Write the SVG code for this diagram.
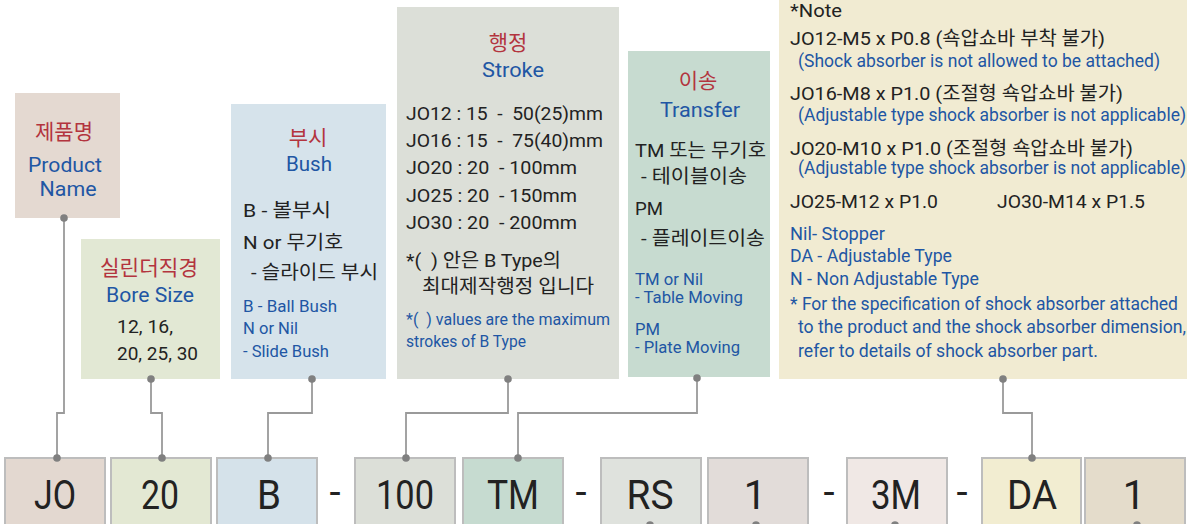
<svg xmlns="http://www.w3.org/2000/svg" width="1187" height="524" viewBox="0 0 1187 524">
<style>
text{font-family:Roboto,"Noto Sans CJK KR","Liberation Sans",sans-serif;font-weight:400;}
.r{fill:#b3343e;font-size:21px;text-anchor:middle;}
.h{fill:#2156a4;font-size:21px;text-anchor:middle;}
.k{fill:#222;font-size:19px;}
.b{fill:#2156a4;font-size:16.5px;}
.nb{fill:#2156a4;font-size:17.5px;}
.big{fill:#222;font-size:40px;text-anchor:middle;}
.cn{fill:none;stroke:#9a9a9a;stroke-width:1.8;}
.dot{fill:#808080;}
.bx{stroke:#bdbdbd;stroke-width:2;}
</style>
<rect width="1187" height="524" fill="#fff"/>

<g id="node-product">
<rect x="15" y="93" width="105" height="125" fill="#e4d9d1"/>
<text class="r" x="64" y="139" textLength="58" lengthAdjust="spacingAndGlyphs">제품명</text>
<text class="h" x="65" y="172" textLength="74" lengthAdjust="spacingAndGlyphs">Product</text>
<text class="h" x="68" y="196" textLength="57" lengthAdjust="spacingAndGlyphs">Name</text>
</g>

<g id="node-bore">
<rect x="81" y="239" width="139" height="140" fill="#e2e8d4"/>
<text class="r" x="149" y="275" textLength="98" lengthAdjust="spacingAndGlyphs">실린더직경</text>
<text class="h" x="150" y="302" textLength="88" lengthAdjust="spacingAndGlyphs">Bore Size</text>
<text class="k" x="117" y="333" textLength="56" lengthAdjust="spacingAndGlyphs">12, 16,</text>
<text class="k" x="117" y="360" textLength="81" lengthAdjust="spacingAndGlyphs">20, 25, 30</text>
</g>

<g id="node-bush">
<rect x="231" y="104" width="155" height="275" fill="#d6e3eb"/>
<text class="r" x="308" y="145">부시</text>
<text class="h" x="309" y="171" textLength="46" lengthAdjust="spacingAndGlyphs">Bush</text>
<text class="k" x="243" y="217" textLength="88" lengthAdjust="spacingAndGlyphs">B - 볼부시</text>
<text class="k" x="243" y="249" textLength="100" lengthAdjust="spacingAndGlyphs">N or 무기호</text>
<text class="k" x="251" y="279" textLength="127" lengthAdjust="spacingAndGlyphs">- 슬라이드 부시</text>
<text class="b" x="243" y="312" textLength="94" lengthAdjust="spacingAndGlyphs">B - Ball Bush</text>
<text class="b" x="243" y="334" textLength="55" lengthAdjust="spacingAndGlyphs">N or Nil</text>
<text class="b" x="243" y="357" textLength="86" lengthAdjust="spacingAndGlyphs">- Slide Bush</text>
</g>

<g id="node-stroke">
<rect x="397" y="7" width="222" height="372" fill="#dcdfd8"/>
<text class="r" x="508" y="50">행정</text>
<text class="h" x="513" y="77" textLength="62" lengthAdjust="spacingAndGlyphs">Stroke</text>
<text class="k" x="406" y="120" xml:space="preserve" textLength="197" lengthAdjust="spacingAndGlyphs">JO12 : 15  -  50(25)mm</text>
<text class="k" x="406" y="147" xml:space="preserve" textLength="197" lengthAdjust="spacingAndGlyphs">JO16 : 15  -  75(40)mm</text>
<text class="k" x="406" y="174" xml:space="preserve" textLength="171" lengthAdjust="spacingAndGlyphs">JO20 : 20  - 100mm</text>
<text class="k" x="406" y="202" xml:space="preserve" textLength="171" lengthAdjust="spacingAndGlyphs">JO25 : 20  - 150mm</text>
<text class="k" x="406" y="229" xml:space="preserve" textLength="171" lengthAdjust="spacingAndGlyphs">JO30 : 20  - 200mm</text>
<text class="k" x="406" y="267" xml:space="preserve" textLength="155" lengthAdjust="spacingAndGlyphs">*(  ) 안은 B Type의</text>
<text class="k" x="422" y="293" textLength="172" lengthAdjust="spacingAndGlyphs">최대제작행정 입니다</text>
<text class="b" x="406" y="325" xml:space="preserve" textLength="204" lengthAdjust="spacingAndGlyphs">*(  ) values are the maximum</text>
<text class="b" x="406" y="347" textLength="120" lengthAdjust="spacingAndGlyphs">strokes of B Type</text>
</g>

<g id="node-transfer">
<rect x="628" y="51" width="142" height="326" fill="#c7dbd0"/>
<text class="r" x="698" y="88">이송</text>
<text class="h" x="700" y="117" textLength="80" lengthAdjust="spacingAndGlyphs">Transfer</text>
<text class="k" x="635" y="157" textLength="131" lengthAdjust="spacingAndGlyphs">TM 또는 무기호</text>
<text class="k" x="641" y="183" textLength="106" lengthAdjust="spacingAndGlyphs">- 테이블이송</text>
<text class="k" x="635" y="215" textLength="28" lengthAdjust="spacingAndGlyphs">PM</text>
<text class="k" x="641" y="245" textLength="124" lengthAdjust="spacingAndGlyphs">- 플레이트이송</text>
<text class="b" x="635" y="285" textLength="68" lengthAdjust="spacingAndGlyphs">TM or Nil</text>
<text class="b" x="635" y="303" textLength="108" lengthAdjust="spacingAndGlyphs">- Table Moving</text>
<text class="b" x="635" y="335" textLength="25" lengthAdjust="spacingAndGlyphs">PM</text>
<text class="b" x="635" y="353" textLength="105" lengthAdjust="spacingAndGlyphs">- Plate Moving</text>
</g>

<g id="node-note">
<rect x="779" y="0" width="408" height="379" fill="#f1ebd2"/>
<text class="k" x="790" y="17" textLength="52" lengthAdjust="spacingAndGlyphs">*Note</text>
<text class="k" x="790" y="45" textLength="315" lengthAdjust="spacingAndGlyphs">JO12-M5 x P0.8 (쇽압쇼바 부착 불가)</text>
<text class="nb" x="798" y="67" textLength="362" lengthAdjust="spacingAndGlyphs">(Shock absorber is not allowed to be attached)</text>
<text class="k" x="790" y="100" textLength="333" lengthAdjust="spacingAndGlyphs">JO16-M8 x P1.0 (조절형 쇽압쇼바 불가)</text>
<text class="nb" x="798" y="121" textLength="388" lengthAdjust="spacingAndGlyphs">(Adjustable type shock absorber is not applicable)</text>
<text class="k" x="790" y="155" textLength="343" lengthAdjust="spacingAndGlyphs">JO20-M10 x P1.0 (조절형 쇽압쇼바 불가)</text>
<text class="nb" x="798" y="174" textLength="388" lengthAdjust="spacingAndGlyphs">(Adjustable type shock absorber is not applicable)</text>
<text class="k" x="790" y="208" textLength="148" lengthAdjust="spacingAndGlyphs">JO25-M12 x P1.0</text>
<text class="k" x="997" y="208" textLength="148" lengthAdjust="spacingAndGlyphs">JO30-M14 x P1.5</text>
<text class="nb" x="790" y="240" textLength="95" lengthAdjust="spacingAndGlyphs">Nil- Stopper</text>
<text class="nb" x="790" y="262" textLength="162" lengthAdjust="spacingAndGlyphs">DA - Adjustable Type</text>
<text class="nb" x="790" y="285" textLength="189" lengthAdjust="spacingAndGlyphs">N - Non Adjustable Type</text>
<text class="nb" x="790" y="310" textLength="388" lengthAdjust="spacingAndGlyphs">* For the specification of shock absorber attached</text>
<text class="nb" x="798" y="333" textLength="388" lengthAdjust="spacingAndGlyphs">to the product and the shock absorber dimension,</text>
<text class="nb" x="798" y="357" textLength="300" lengthAdjust="spacingAndGlyphs">refer to details of shock absorber part.</text>
</g>

<g id="code-JO"><rect class="bx" x="5" y="458" width="100" height="70" fill="#e3d8d0"/><text class="big" x="55" y="509" textLength="42" lengthAdjust="spacingAndGlyphs">JO</text></g>
<g id="code-20"><rect class="bx" x="111" y="458" width="100" height="70" fill="#e3e8d3"/><text class="big" x="160" y="509" textLength="38" lengthAdjust="spacingAndGlyphs">20</text></g>
<g id="code-B"><rect class="bx" x="217" y="458" width="100" height="70" fill="#d5e2ea" stroke="#a9acaf"/><text class="big" x="269" y="509" textLength="24" lengthAdjust="spacingAndGlyphs">B</text></g>
<g id="sep-1"><text class="big" x="335" y="506">-</text></g>
<g id="code-100"><rect class="bx" x="355" y="458" width="100" height="70" fill="#dcdfd8"/><text class="big" x="405" y="509" textLength="58" lengthAdjust="spacingAndGlyphs">100</text></g>
<g id="code-TM"><rect class="bx" x="463" y="458" width="100" height="70" fill="#c6dbd0" stroke="#abb0ad"/><text class="big" x="513" y="509" textLength="52" lengthAdjust="spacingAndGlyphs">TM</text></g>
<g id="sep-2"><text class="big" x="581" y="506">-</text></g>
<g id="code-RS"><rect class="bx" x="601" y="458" width="100" height="70" fill="#dfe2dd"/><text class="big" x="650" y="509" textLength="47" lengthAdjust="spacingAndGlyphs">RS</text></g>
<g id="code-1a"><rect class="bx" x="708" y="458" width="100" height="70" fill="#e2dcd9"/><text class="big" x="755" y="509">1</text></g>
<g id="sep-3"><text class="big" x="829" y="506">-</text></g>
<g id="code-3M"><rect class="bx" x="847" y="458" width="100" height="70" fill="#f0e8e5"/><text class="big" x="896" y="509" textLength="50" lengthAdjust="spacingAndGlyphs">3M</text></g>
<g id="sep-4"><text class="big" x="962" y="506">-</text></g>
<g id="code-DA"><rect class="bx" x="982" y="458" width="99" height="70" fill="#f2edd1" stroke="#ababa6"/><text class="big" x="1032" y="509" textLength="50" lengthAdjust="spacingAndGlyphs">DA</text></g>
<g id="code-1b"><rect class="bx" x="1085" y="458" width="100" height="70" fill="#e4dccb" stroke="#ababa6"/><text class="big" x="1134" y="509">1</text></g>

<g id="connectors">
<path class="cn" d="M57 458 V413 H64 V218"/>
<path class="cn" d="M162 458 V413 H151 V379"/>
<path class="cn" d="M268 458 V413 H312 V379"/>
<path class="cn" d="M406 458 V413 H508 V379"/>
<path class="cn" d="M518 458 V413 H697 V378"/>
<path class="cn" d="M1032 458 V413 H1003 V379"/>
<circle class="dot" cx="57" cy="458" r="3.8"/><circle class="dot" cx="64" cy="218" r="3.8"/>
<circle class="dot" cx="162" cy="458" r="3.8"/><circle class="dot" cx="151" cy="379" r="3.8"/>
<circle class="dot" cx="268" cy="458" r="3.8"/><circle class="dot" cx="312" cy="379" r="3.8"/>
<circle class="dot" cx="406" cy="458" r="3.8"/><circle class="dot" cx="508" cy="379" r="3.8"/>
<circle class="dot" cx="518" cy="458" r="3.8"/><circle class="dot" cx="697" cy="378" r="3.8"/>
<circle class="dot" cx="1032" cy="458" r="3.8"/><circle class="dot" cx="1003" cy="379" r="3.8"/>
<circle class="dot" cx="650" cy="525" r="3.8"/><circle class="dot" cx="756" cy="525" r="3.8"/>
<circle class="dot" cx="895" cy="525" r="3.8"/><circle class="dot" cx="1137" cy="525" r="3.8"/>
</g>
</svg>
